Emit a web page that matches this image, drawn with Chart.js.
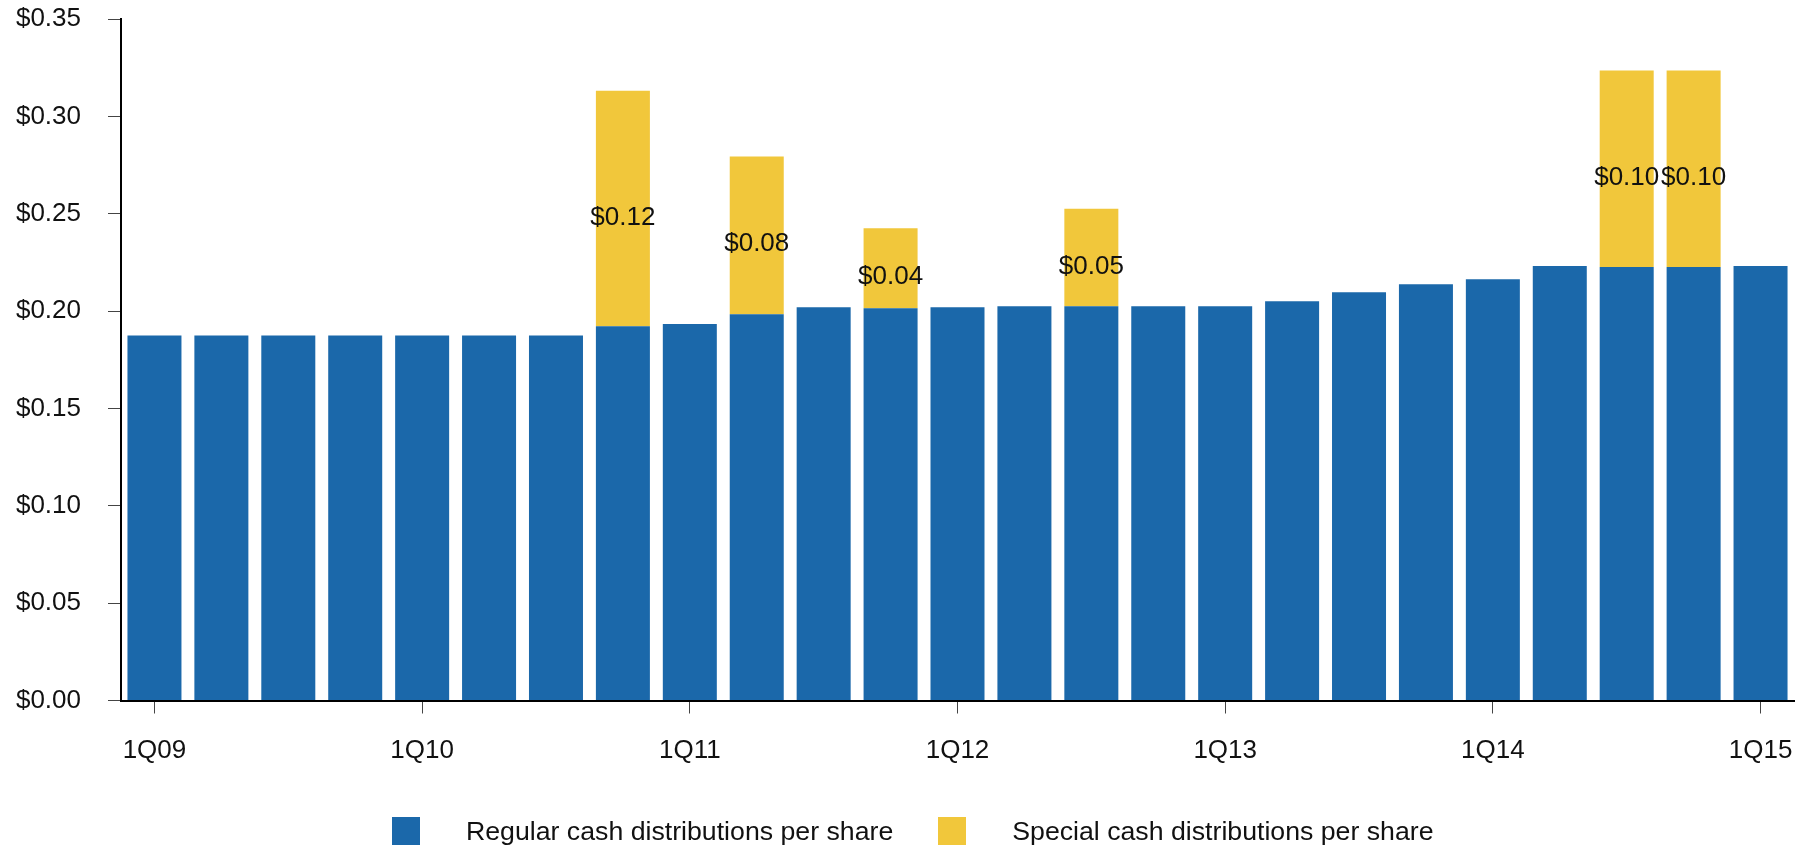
<!DOCTYPE html>
<html>
<head>
<meta charset="utf-8">
<script src="https://cdn.jsdelivr.net/npm/chart.js@4.4.0/dist/chart.umd.min.js"></script>
<style>
  html, body { margin: 0; padding: 0; background: #ffffff; overflow: hidden; }
  #wrap { position: relative; width: 1810px; height: 846px; }
  #legend { position: absolute; left: 392px; top: 817px; display: flex; align-items: center;
            font-family: "Liberation Sans", Arial, sans-serif; font-size: 26.7px; color: #111; }
  .item { display: flex; align-items: center; margin-right: 45px; }
  .box { width: 28px; height: 28px; margin-right: 46px; }
  .lbl { line-height: 28px; white-space: nowrap; }
</style>
</head>
<body>
<div id="wrap">
  <canvas id="c" width="1810" height="846"></canvas>
  <div id="legend"></div>
</div>
<script>
const categories = ['1Q09','2Q09','3Q09','4Q09','1Q10','2Q10','3Q10','4Q10','1Q11','2Q11','3Q11','4Q11','1Q12','2Q12','3Q12','4Q12','1Q13','2Q13','3Q13','4Q13','1Q14','2Q14','3Q14','4Q14','1Q15'];
const regular = [0.1875,0.1875,0.1875,0.1875,0.1875,0.1875,0.1875,0.1922,0.1933,0.1984,0.2020,0.2015,0.2020,0.2025,0.2025,0.2025,0.2025,0.2051,0.2097,0.2138,0.2164,0.2231,0.2226,0.2226,0.2231];
const special = [0,0,0,0,0,0,0,0.121,0,0.081,0,0.041,0,0,0.050,0,0,0,0,0,0,0,0.101,0.101,0];
const yTicks = [0,0.05,0.10,0.15,0.20,0.25,0.30,0.35];
const seriesNames = ['Regular cash distributions per share','Special cash distributions per share'];
const seriesColors = ['#1b68aa','#f1c73b'];

const FONT = "'Liberation Sans', Arial, sans-serif";

const labelPlugin = {
  id: 'segLabels',
  afterDatasetsDraw(chart) {
    const ctx = chart.ctx;
    const meta = chart.getDatasetMeta(1);
    ctx.save();
    ctx.font = '26px ' + FONT;
    ctx.fillStyle = '#111111';
    ctx.textAlign = 'center';
    ctx.textBaseline = 'middle';
    meta.data.forEach((el, i) => {
      const v = chart.data.datasets[1].data[i];
      if (!v) return;
      const yc = (el.y + el.base) / 2 + 9;
      ctx.fillText('$' + v.toFixed(2), el.x, yc);
    });
    ctx.restore();
  }
};

const chart = new Chart(document.getElementById('c'), {
  type: 'bar',
  data: {
    labels: categories,
    datasets: [
      { label: seriesNames[0], data: regular, backgroundColor: seriesColors[0], borderWidth: 0,
        categoryPercentage: 1, barPercentage: 0.807 },
      { label: seriesNames[1], data: special, backgroundColor: seriesColors[1], borderWidth: 0,
        categoryPercentage: 1, barPercentage: 0.807 }
    ]
  },
  options: {
    responsive: false,
    animation: false,
    devicePixelRatio: 1,
    layout: { autoPadding: false, padding: { top: 19, right: 16, left: 0, bottom: 0 } },
    plugins: { legend: { display: false }, tooltip: { enabled: false } },
    scales: {
      x: {
        stacked: true,
        grid: {
          offset: false,
          drawOnChartArea: false,
          drawTicks: true,
          tickLength: 13,
          tickColor: (c) => (c.index % 4 === 0 ? '#444444' : 'rgba(0,0,0,0)'),
          tickWidth: 1
        },
        border: { display: true, color: '#000000', width: 2 },
        ticks: {
          autoSkip: false,
          maxRotation: 0,
          minRotation: 0,
          padding: 22,
          color: '#111111',
          font: { family: FONT, size: 26 },
          callback: function(v, i) { return i % 4 === 0 ? categories[i] : ''; }
        },
        afterFit: (s) => { s.height = 145.5; s.paddingLeft = 0; s.paddingRight = 0; }
      },
      y: {
        stacked: true,
        min: 0,
        max: 0.35,
        afterBuildTicks: (s) => { s.ticks = yTicks.map(v => ({ value: v })); },
        grid: {
          drawOnChartArea: false,
          drawTicks: true,
          tickLength: 13,
          tickColor: '#444444',
          tickWidth: 1
        },
        border: { display: true, color: '#000000', width: 2 },
        ticks: {
          padding: 27,
          color: '#111111',
          font: { family: FONT, size: 26 },
          callback: (v) => '$' + Number(v).toFixed(2)
        },
        afterFit: (s) => { s.width = 121; s.paddingTop = 0; s.paddingBottom = 0; }
      }
    }
  },
  plugins: [labelPlugin]
});

// HTML legend built from the chart's datasets
const legendEl = document.getElementById('legend');
chart.data.datasets.forEach((ds) => {
  const item = document.createElement('div');
  item.className = 'item';
  const box = document.createElement('div');
  box.className = 'box';
  box.style.background = ds.backgroundColor;
  const lbl = document.createElement('span');
  lbl.className = 'lbl';
  lbl.textContent = ds.label;
  item.appendChild(box);
  item.appendChild(lbl);
  legendEl.appendChild(item);
});
</script>
</body>
</html>
